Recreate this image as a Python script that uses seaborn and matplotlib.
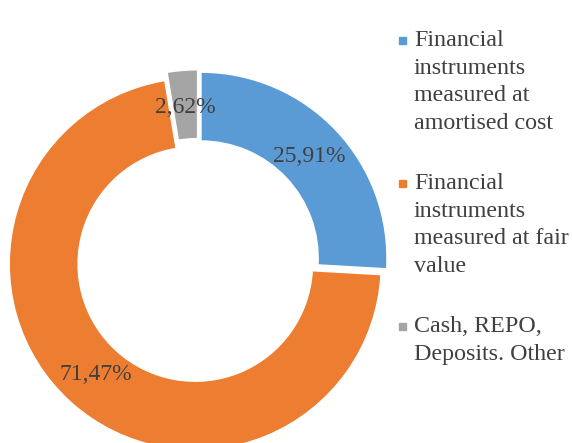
import matplotlib
matplotlib.use("Agg")
import matplotlib.pyplot as plt
from matplotlib.patches import Rectangle
import seaborn as sns

# Portfolio structure (share of total, %)
categories = [
    "Financial\ninstruments\nmeasured at\namortised cost",
    "Financial\ninstruments\nmeasured at fair\nvalue",
    "Cash, REPO,\nDeposits. Other",
]
shares = [25.91, 71.47, 2.62]
colors = ["#5B9BD5", "#ED7D31", "#A5A5A5"]

sns.set_theme(style="white")
plt.rcParams["font.family"] = ["Liberation Serif", "DejaVu Serif"]

W, H = 572, 443
fig = plt.figure(figsize=(W / 100, H / 100), dpi=100)

# place the donut: centre (198, 261) px, outer radius 186 px
cx, cy, R = 198, 261, 186
half = 1.1 * R
ax = fig.add_axes([(cx - half) / W, (H - cy - half) / H, 2 * half / W, 2 * half / H])

wedges, texts, autotexts = ax.pie(
    shares,
    colors=colors,
    startangle=90,
    counterclock=False,
    explode=[0.022, 0.022, 0.028],
    autopct=lambda p: f"{p:.2f}".replace(".", ",") + "%",
    pctdistance=0.8,
    wedgeprops=dict(width=0.37, edgecolor="white", linewidth=1),
    textprops=dict(color="#404040", fontsize=17),
)
ax.set_xlim(-1.1, 1.1)
ax.set_ylim(-1.1, 1.1)
ax.set_aspect("equal")
ax.axis("off")

# legend drawn by hand so the swatch sits next to the first line
tops = [33, 176, 319]
for lab, col, top in zip(categories, colors, tops):
    fig.patches.append(Rectangle((399 / W, 1 - (top + 11) / H), 7 / W, 7 / H,
                                 transform=fig.transFigure, color=col))
    fig.text(414 / W, 1 - (top - 3) / H, lab, ha="left", va="top",
             fontsize=17.3, color="#404040", linespacing=1.41)

fig.savefig("out.png", dpi=100)
